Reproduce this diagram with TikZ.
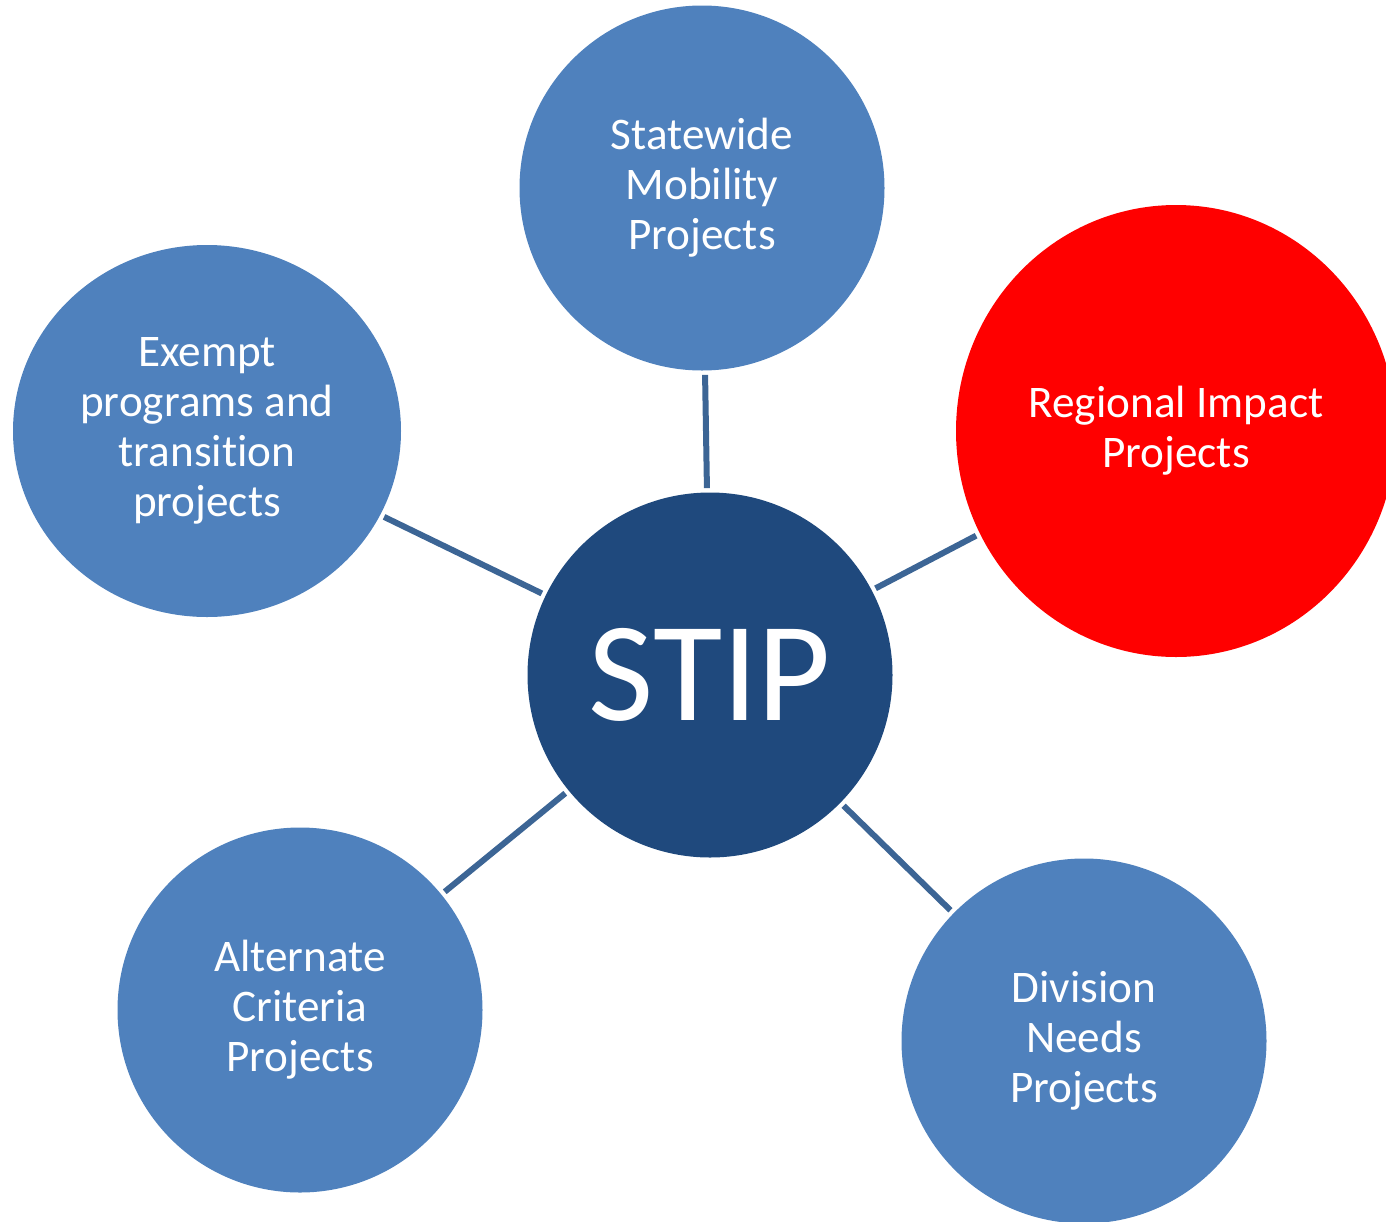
\documentclass[tikz,border=0pt]{standalone}
\usepackage{fontspec}
\setmainfont[Ligatures={NoCommon}]{Carlito}
\usepackage{tikz}
\definecolor{hubblue}{HTML}{1F497D}
\definecolor{spokeblue}{HTML}{4F81BD}
\definecolor{linkblue}{HTML}{3C6595}
\definecolor{hotred}{HTML}{FF0000}
\usetikzlibrary{shapes.geometric}

\tikzset{
  spoke/.style={circle,fill=spokeblue,text=white,inner sep=0pt,
    minimum size=182.5pt,align=center,font=\fontsize{22.6}{25}\selectfont},
  hub/.style={circle,fill=hubblue,text=white,inner sep=0pt,
    minimum size=182.5pt,font=\fontsize{71}{85}\selectfont},
  link/.style={linkblue,line width=3pt,shorten <=2pt,shorten >=2pt}
}

\begin{document}
\begin{tikzpicture}[x=0.5pt,y=-0.5pt]

           \useasboundingbox (0,0) rectangle (1386,1221);

           \node [hub] (stip) at (710,675) {STIP};

           \node [spoke] (statewide) at (702,188) {Statewide\\Mobility\\Projects};
           \node [spoke,ellipse,minimum width=194pt,minimum height=186pt] (exempt) at (207,431)
                 {Exempt\\programs and\\transition\\projects};
           \node [spoke,ellipse,fill=hotred,minimum width=220pt,minimum height=226pt] (regional) at (1176,431)
                 {Regional Impact\\Projects};
           \node [spoke] (alternate) at (300,1010) {Alternate\\Criteria\\Projects};
           \node [spoke] (division) at (1084,1041) {Division\\Needs\\Projects};

           \draw [link] (statewide) -- (stip);
           \draw [link] (exempt) -- (stip);
           \draw [link] (regional) -- (stip);
           \draw [link] (alternate) -- (stip);
           \draw [link] (division) -- (stip);

        \end{tikzpicture}
\end{document}
